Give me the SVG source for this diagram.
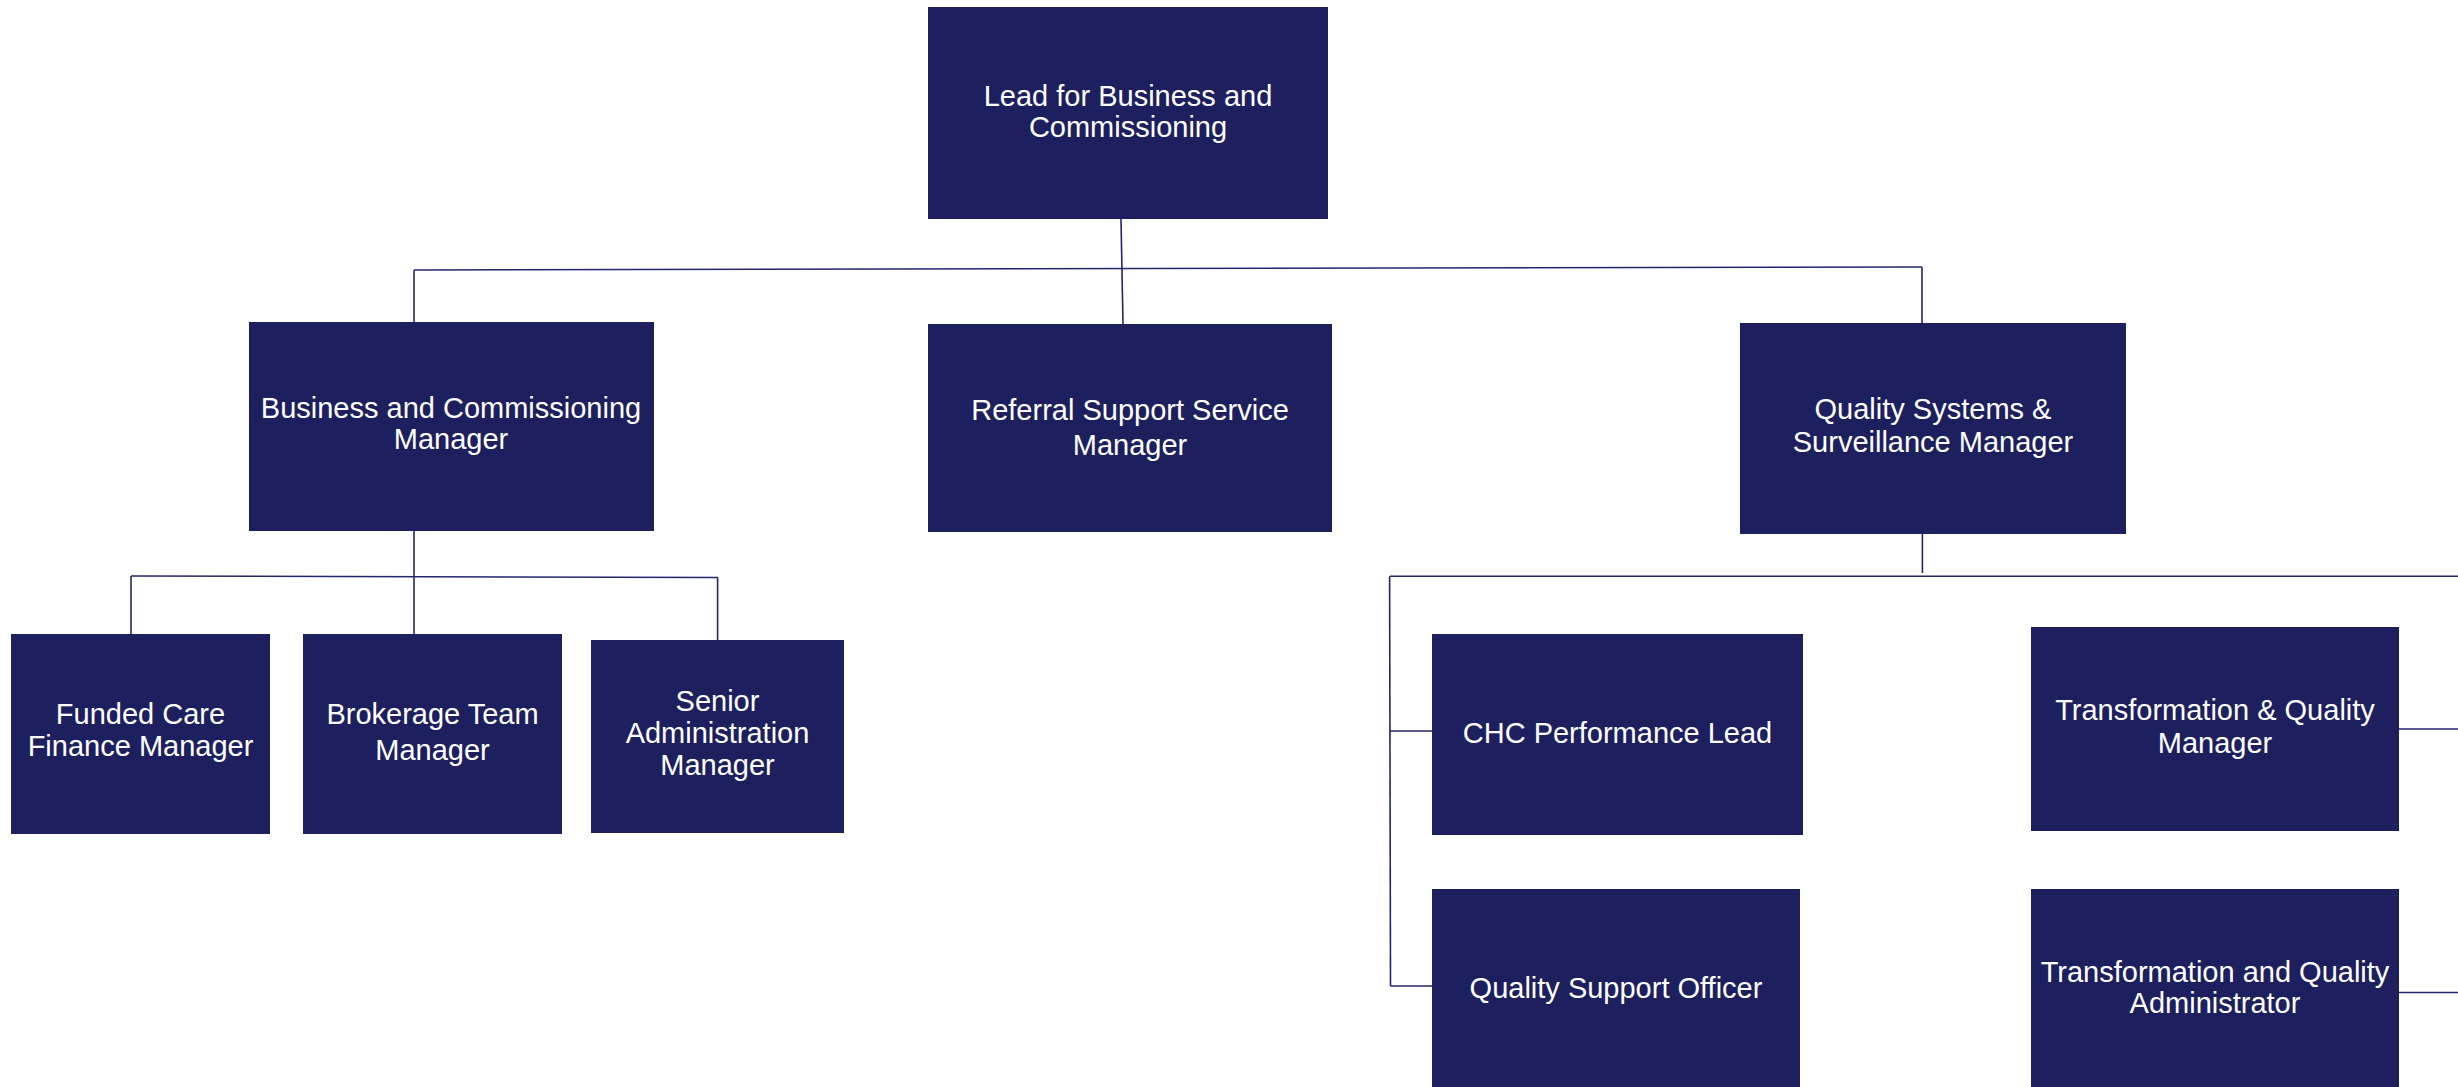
<svg xmlns="http://www.w3.org/2000/svg" width="2458" height="1087" viewBox="0 0 2458 1087">
<style>
.box{fill:#1e1f5f}
.t{fill:#ffffff;font-family:"Liberation Sans",Arial,sans-serif;font-size:29px;text-anchor:middle}
.c{stroke:#23266a;stroke-width:1.6;fill:none}
</style>
<rect width="2458" height="1087" fill="#ffffff"/>
<g id="connectors">
<path class="c" d="M1121,219 L1123,324"/>
<path class="c" d="M414,270 L1922,267"/>
<path class="c" d="M414,270 L414,322"/>
<path class="c" d="M1922,267 L1922,323"/>
<path class="c" d="M414,531 L414,634"/>
<path class="c" d="M131,576 L718,577.5"/>
<path class="c" d="M131,576 L131,634"/>
<path class="c" d="M717.6,577.5 L717.6,640"/>
<path class="c" d="M1922.4,534 L1922.4,573"/>
<path class="c" d="M1390,576.3 L2458,576.3"/>
<path class="c" d="M1389.6,576.3 L1390.5,986"/>
<path class="c" d="M1390,731 L1432,731"/>
<path class="c" d="M1390.5,986 L1432,986"/>
<path class="c" d="M2399,729 L2458,729"/>
<path class="c" d="M2399,992.5 L2458,992.5"/>
</g>
<g id="lead">
<rect class="box" x="928" y="7" width="400" height="212"/>
<text class="t" x="1128" y="106">Lead for Business and</text>
<text class="t" x="1128" y="137">Commissioning</text>
</g>
<g id="bcm">
<rect class="box" x="249" y="322" width="405" height="209"/>
<text class="t" x="451" y="418">Business and Commissioning</text>
<text class="t" x="451" y="449">Manager</text>
</g>
<g id="referral">
<rect class="box" x="928" y="324" width="404" height="208"/>
<text class="t" x="1130" y="420">Referral Support Service</text>
<text class="t" x="1130" y="455">Manager</text>
</g>
<g id="qssm">
<rect class="box" x="1740" y="323" width="386" height="211"/>
<text class="t" x="1933" y="419">Quality Systems &amp;</text>
<text class="t" x="1933" y="452">Surveillance Manager</text>
</g>
<g id="funded">
<rect class="box" x="11" y="634" width="259" height="200"/>
<text class="t" x="140.5" y="724">Funded Care</text>
<text class="t" x="140.5" y="756">Finance Manager</text>
</g>
<g id="brokerage">
<rect class="box" x="303" y="634" width="259" height="200"/>
<text class="t" x="432.5" y="724">Brokerage Team</text>
<text class="t" x="432.5" y="760">Manager</text>
</g>
<g id="senioradmin">
<rect class="box" x="591" y="640" width="253" height="193"/>
<text class="t" x="717.5" y="711">Senior</text>
<text class="t" x="717.5" y="743">Administration</text>
<text class="t" x="717.5" y="775">Manager</text>
</g>
<g id="chc">
<rect class="box" x="1432" y="634" width="371" height="201"/>
<text class="t" x="1617.5" y="743">CHC Performance Lead</text>
</g>
<g id="qso">
<rect class="box" x="1432" y="889" width="368" height="198"/>
<text class="t" x="1616" y="998">Quality Support Officer</text>
</g>
<g id="tqm">
<rect class="box" x="2031" y="627" width="368" height="204"/>
<text class="t" x="2215" y="720">Transformation &amp; Quality</text>
<text class="t" x="2215" y="753">Manager</text>
</g>
<g id="tqa">
<rect class="box" x="2031" y="889" width="368" height="198"/>
<text class="t" x="2215" y="982">Transformation and Quality</text>
<text class="t" x="2215" y="1013">Administrator</text>
</g>
</svg>
